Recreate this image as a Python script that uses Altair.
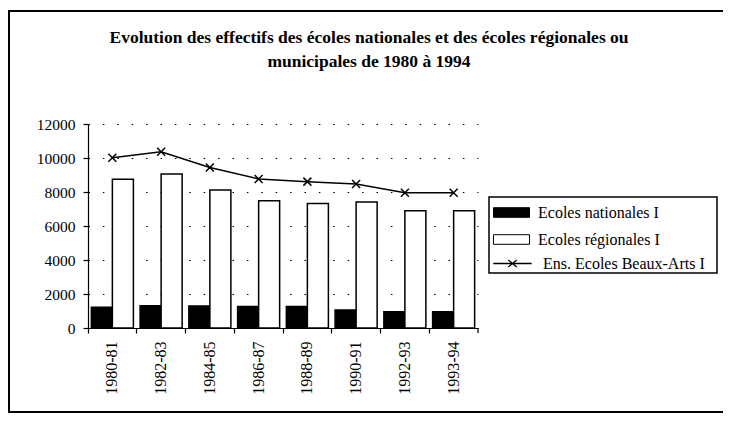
import altair as alt
import pandas as pd

periodes = ["1980-81", "1982-83", "1984-85", "1986-87", "1988-89", "1990-91", "1992-93", "1993-94"]
nationales = [1220, 1310, 1300, 1260, 1260, 1060, 960, 960]
regionales = [8750, 9060, 8120, 7490, 7330, 7410, 6900, 6900]
ensemble = [10020, 10370, 9440, 8770, 8610, 8470, 7960, 7960]
y_ticks = [0, 2000, 4000, 6000, 8000, 10000, 12000]

serie_nat = "Ecoles nationales I"
serie_reg = "Ecoles régionales I"
serie_ens = "Ens. Ecoles  Beaux-Arts I"

titre = ["Evolution des effectifs des écoles nationales et des écoles régionales ou",
         "municipales de 1980 à 1994"]

FONT = "Liberation Serif"

bars_df = pd.DataFrame({
    "periode": periodes * 2,
    "serie": [serie_nat] * len(periodes) + [serie_reg] * len(periodes),
    "valeur": nationales + regionales,
})
line_df = pd.DataFrame({"periode": periodes, "valeur": ensemble, "serie": [serie_ens] * len(periodes)})

x_scale = alt.Scale(domain=periodes, paddingInner=0, paddingOuter=0)
y_scale = alt.Scale(domain=[0, 12000], nice=False)

x_axis = alt.Axis(title=None, labelAngle=270, bandPosition=0, tickSize=5, labelPadding=8,
                  labelFontSize=16, grid=False)
y_axis = alt.Axis(title=None, values=y_ticks, tickSize=5,
                  format="d", labelOverlap=False,
                  labelPadding=8, labelFontSize=15.5, grid=True, gridDash=[1.5, 12.9],
                  gridColor="black", gridWidth=1.2)

X = alt.X("periode:N", scale=x_scale, axis=x_axis, sort=periodes)
Y = alt.Y("valeur:Q", scale=y_scale, axis=y_axis)

frame = alt.Chart(alt.Data(values=[{}])).mark_rect(
    fill="transparent", stroke="black", strokeWidth=2
).encode(x=alt.value(-79), x2=alt.value(680), y=alt.value(-113), y2=alt.value(288))

title_layers = [
    alt.Chart(alt.Data(values=[{}])).mark_text(
        font=FONT, fontSize=17.5, fontWeight="bold", color="black", align="center", baseline="alphabetic"
    ).encode(x=alt.value(281), y=alt.value(yy), text=alt.value(t))
    for t, yy in zip(titre, [-81, -57.5])
]

legend_box = alt.Chart(alt.Data(values=[{}])).mark_rect(
    fill="white", stroke="black", strokeWidth=1.5
).encode(x=alt.value(401), x2=alt.value(629), y=alt.value(73), y2=alt.value(149))

end_tick = alt.Chart(alt.Data(values=[{}])).mark_rule(color="black", strokeWidth=1.2).encode(
    x=alt.value(390), y=alt.value(204), y2=alt.value(209))

bars = alt.Chart(bars_df).mark_bar(stroke="black", strokeWidth=1.5).encode(
    x=X,
    xOffset=alt.XOffset("serie:N", sort=[serie_nat, serie_reg],
                        scale=alt.Scale(paddingInner=0, paddingOuter=0.16)),
    y=Y,
    fill=alt.Fill("serie:N", scale=alt.Scale(domain=[serie_nat, serie_reg], range=["black", "white"]),
                  legend=alt.Legend(title=None, orient="none", legendX=413.5, legendY=80.5,
                                    symbolType="M-3,-0.8H3V0.8H-3Z", symbolSize=144,
                                    symbolOffset=2, labelOffset=18.5, rowPadding=11,
                                    symbolStrokeColor="black", symbolStrokeWidth=1,
                                    labelFont=FONT, labelFontSize=16, labelColor="black",
                                    labelLimit=300, padding=0)),
)

line = alt.Chart(line_df).mark_line(strokeWidth=1.5).encode(
    x=X,
    y=Y,
    stroke=alt.Stroke("serie:N", scale=alt.Scale(domain=[serie_ens], range=["black"]),
                      legend=alt.Legend(title=None, orient="none", legendX=414.5, legendY=131.5,
                                        symbolType="M-3.2,0H3.2M-0.7,-0.6L0.7,0.6M-0.7,0.6L0.7,-0.6",
                                        symbolSize=144, symbolOffset=2, labelOffset=22.5,
                                        symbolFillColor="transparent", symbolStrokeWidth=1.3,
                                        labelFont=FONT, labelFontSize=16, labelColor="black",
                                        labelLimit=300, padding=0)),
)

points = alt.Chart(line_df).mark_point(
    shape="M-1,-1L1,1M-1,1L1,-1", size=64, filled=False, color="black", strokeWidth=1.5, opacity=1
).encode(x=X, y=Y)

chart = alt.layer(frame, *title_layers, legend_box, end_tick, bars, line, points).properties(
    width=390, height=204,
    padding={"left": 80, "top": 116, "right": 245, "bottom": 85},
    autosize=alt.AutoSizeParams(type="none"),
).configure_view(stroke=None).configure_axis(
    labelFont=FONT, labelColor="black", domainColor="black", tickColor="black",
    domainWidth=1.2, tickWidth=1.2
)

chart.save("out.html", embed_options={"renderer": "svg", "actions": False})
